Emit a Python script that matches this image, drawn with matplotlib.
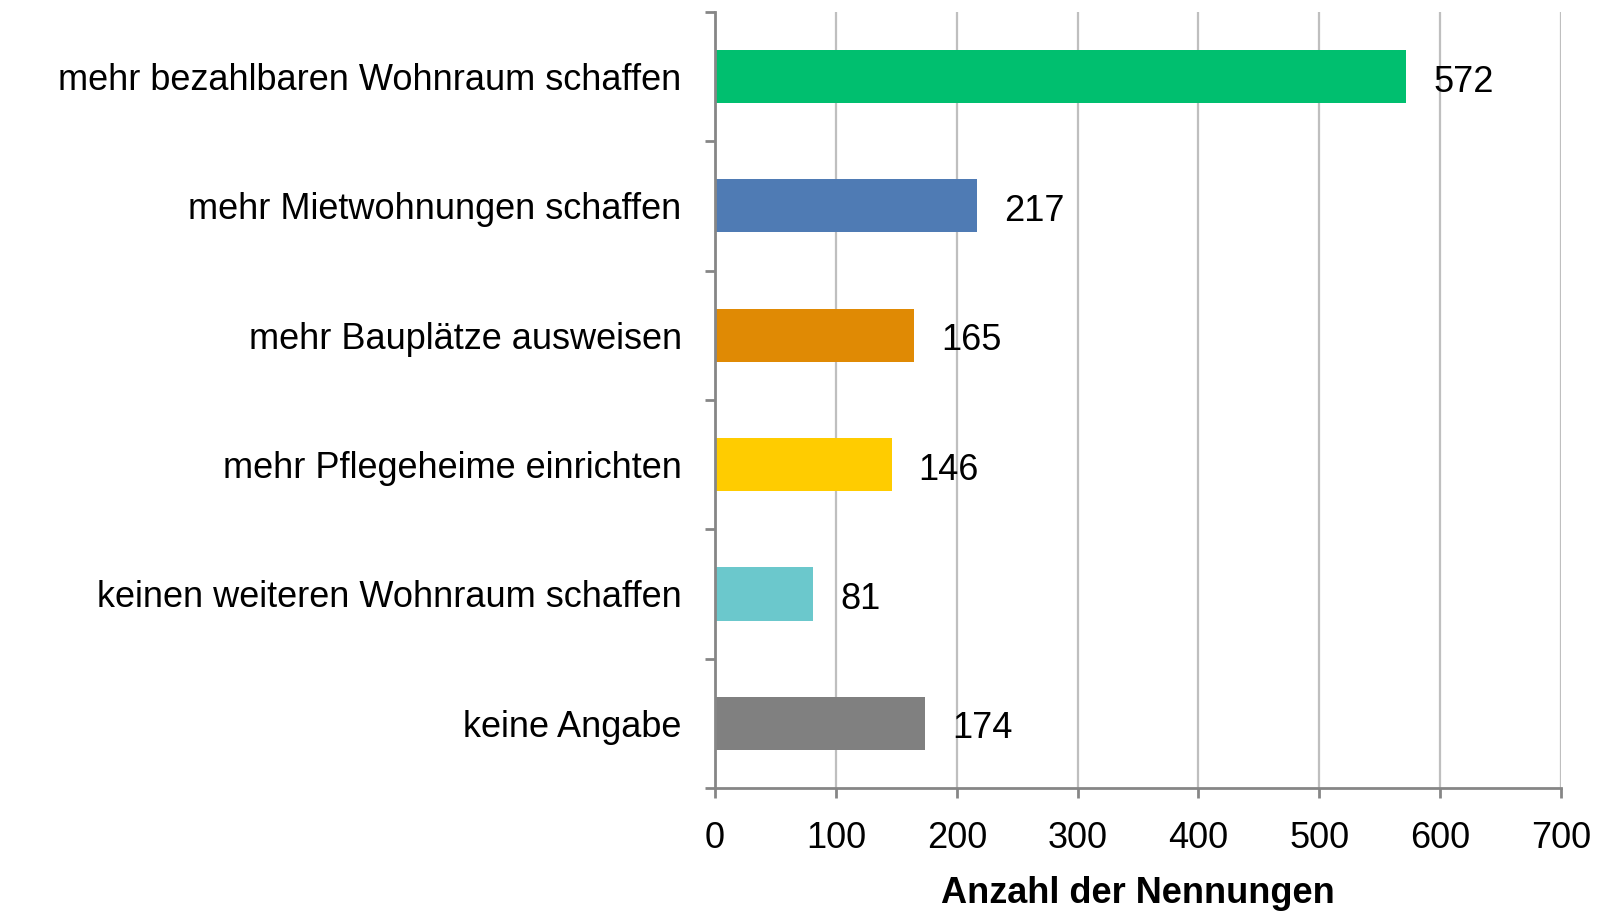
import matplotlib
matplotlib.use("Agg")
import matplotlib.pyplot as plt
import numpy as np

categories = ["mehr bezahlbaren Wohnraum schaffen",
              "mehr Mietwohnungen schaffen",
              "mehr Bauplätze ausweisen",
              "mehr Pflegeheime einrichten",
              "keinen weiteren Wohnraum schaffen",
              "keine Angabe"]
values = [572, 217, 165, 146, 81, 174]
colors = ["#00BF6F", "#4F7BB4", "#E08A04", "#FFCC00", "#6BC8CC", "#808080"]
xticks = [0, 100, 200, 300, 400, 500, 600, 700]
xlabel = "Anzahl der Nennungen"

plt.rcParams['font.family'] = ['Liberation Sans', 'DejaVu Sans']

fig = plt.figure(figsize=(16.08, 9.13), dpi=100)
ax = fig.add_axes([0.4447, 0.1369, 0.5261, 0.8500])

y = np.arange(len(categories))
ax.barh(y, values, height=0.41, color=colors, zorder=3)

for yi, v in zip(y, values):
    ax.annotate(str(v), (v, yi), xytext=(19.5, -4), textcoords="offset points",
                ha="left", va="center", fontsize=26, color="black")

ax.set_ylim(len(categories) - 0.5, -0.5)
ax.set_xlim(0, 700)
ax.set_xticks(xticks)
ax.set_xticklabels([str(t) for t in xticks])
ax.set_yticks(y)
ax.set_yticklabels(categories)
ax.set_yticks(np.arange(-0.5, len(categories)), minor=True)

ax.tick_params(axis="y", which="major", length=0, pad=24, labelsize=26)
ax.tick_params(axis="y", which="minor", length=7, width=2, color="#868686", direction="out")
ax.tick_params(axis="x", which="major", length=7, width=2, color="#868686",
               direction="out", pad=17, labelsize=26)

ax.grid(axis="x", color="#BFBFBF", linewidth=1.6, zorder=0)
for s in ["top", "right"]:
    ax.spines[s].set_visible(False)
for s in ["left", "bottom"]:
    ax.spines[s].set_color("#868686")
    ax.spines[s].set_linewidth(2)
    ax.spines[s].set_zorder(4)

ax.set_xlabel(xlabel, fontsize=26, fontweight="bold", labelpad=14)

fig.savefig("out.png", dpi=100)
